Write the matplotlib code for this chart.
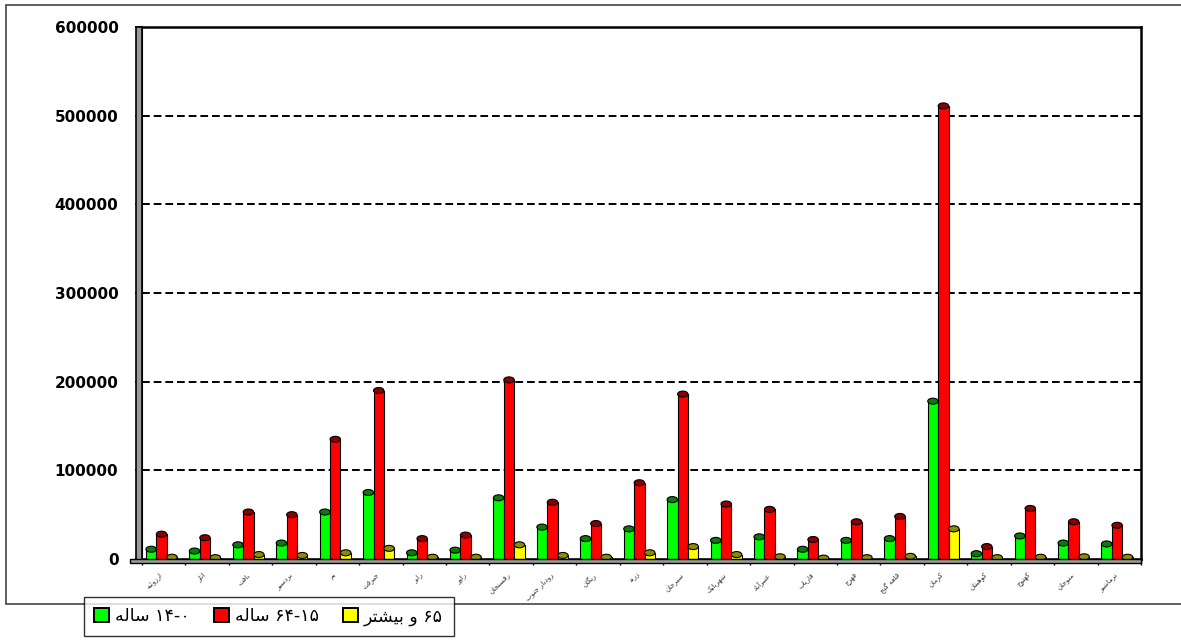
import re
import matplotlib
matplotlib.use('Agg')
import matplotlib.pyplot as plt
from matplotlib.patches import Ellipse, Rectangle, Patch
from matplotlib.ticker import FixedLocator

# county names (Kerman province), left to right
counties = ['ارزوئیه', 'انار', 'بافت', 'بردسیر', 'بم', 'جیرفت', 'رابر', 'راور',
            'رفسنجان', 'رودبار جنوب', 'ریگان', 'زرند', 'سیرجان', 'شهربابک',
            'عنبرآباد', 'فاریاب', 'فهرج', 'قلعه گنج', 'کرمان', 'کوهبنان',
            'کهنوج', 'منوجان', 'نرماشیر']
age_0_14 = [11000, 9000, 16000, 18000, 53000, 75000, 7000, 10000, 69000, 36000,
            23000, 34000, 67000, 21000, 25000, 11000, 21000, 23000, 178000, 6000,
            26000, 18000, 17000]
age_15_64 = [28000, 24000, 53000, 50000, 135000, 190000, 23000, 27000, 202000, 64000,
             40000, 86000, 186000, 62000, 56000, 22000, 42000, 48000, 511000, 14000,
             57000, 42000, 38000]
age_65 = [2000, 1500, 5000, 4000, 7000, 12000, 2000, 2000, 16000, 4000,
          2000, 7000, 14000, 5000, 2500, 1000, 1500, 3000, 34000, 1500,
          2000, 2500, 2000]
series_names = ['۰-۱۴ ساله', '۱۵-۶۴ ساله', '۶۵ و بیشتر']
yticks = [0, 100000, 200000, 300000, 400000, 500000, 600000]

# matplotlib has no arabic shaping, so pick presentation forms by hand
FORMS = {
    'ا': (0xFE8D, 0xFE8E), 'آ': (0xFE81, 0xFE82), 'د': (0xFEA9, 0xFEAA),
    'ر': (0xFEAD, 0xFEAE), 'ز': (0xFEAF, 0xFEB0), 'و': (0xFEED, 0xFEEE),
    'ب': (0xFE8F, 0xFE90, 0xFE91, 0xFE92), 'ت': (0xFE95, 0xFE96, 0xFE97, 0xFE98),
    'ج': (0xFE9D, 0xFE9E, 0xFE9F, 0xFEA0), 'س': (0xFEB1, 0xFEB2, 0xFEB3, 0xFEB4),
    'ش': (0xFEB5, 0xFEB6, 0xFEB7, 0xFEB8), 'ع': (0xFEC9, 0xFECA, 0xFECB, 0xFECC),
    'ف': (0xFED1, 0xFED2, 0xFED3, 0xFED4), 'ق': (0xFED5, 0xFED6, 0xFED7, 0xFED8),
    'ل': (0xFEDD, 0xFEDE, 0xFEDF, 0xFEE0), 'م': (0xFEE1, 0xFEE2, 0xFEE3, 0xFEE4),
    'ن': (0xFEE5, 0xFEE6, 0xFEE7, 0xFEE8), 'ه': (0xFEE9, 0xFEEA, 0xFEEB, 0xFEEC),
    'ئ': (0xFE89, 0xFE8A, 0xFE8B, 0xFE8C), 'ی': (0xFBFC, 0xFBFD, 0xFBFE, 0xFBFF),
    'ک': (0xFB8E, 0xFB8F, 0xFB90, 0xFB91), 'گ': (0xFB92, 0xFB93, 0xFB94, 0xFB95),
}
DIGITS = '0123456789۰۱۲۳۴۵۶۷۸۹'


def rtl(text):
    out = []
    for i, c in enumerate(text):
        if c not in FORMS:
            out.append(c)
            continue
        f = FORMS[c]
        prev = text[i - 1] if i > 0 else ''
        nxt = text[i + 1] if i < len(text) - 1 else ''
        jp = prev in FORMS and len(FORMS[prev]) == 4
        jn = len(f) == 4 and nxt in FORMS
        idx = 3 if (jp and jn) else 1 if jp else 2 if jn else 0
        out.append(chr(f[idx]))
    tokens = re.findall('[%s]+|[^%s]' % (DIGITS, DIGITS), ''.join(out))
    return ''.join(reversed(tokens))


plt.rcParams['font.family'] = ['DejaVu Sans']

fig = plt.figure(figsize=(11.81, 6.42), dpi=100)
W, H = 1181, 642
ax = fig.add_axes([142 / W, 1 - 559 / H, (1141 - 142) / W, (559 - 27) / H])

colors = ['#00ff00', '#ff0000', '#ffff00']
caps = ['#0b7a0b', '#8c0000', '#8c8c00']
data = [age_0_14, age_15_64, age_65]
bw = 0.24
cap_h = 6 * 600000 / 532
x = list(range(len(counties)))
for k, vals in enumerate(data):
    xs = [i + (k - 1) * bw - 0.05 for i in x]
    ax.bar(xs, vals, width=bw, color=colors[k], edgecolor='black', linewidth=0.8, zorder=3)
    for xi, v in zip(xs, vals):
        ax.add_patch(Ellipse((xi, v), bw, cap_h, facecolor=caps[k], edgecolor='black',
                             linewidth=0.8, zorder=4))

ax.set_xlim(-0.5, len(counties) - 0.5)
ax.set_ylim(0, 600000)
ax.set_yticks(yticks)
ax.set_yticklabels([str(v) for v in yticks], fontweight='bold', fontsize=11)
ax.tick_params(axis='y', length=5, width=1.2, pad=12)
for v in yticks[1:-1]:
    ax.axhline(v, color='black', linestyle=(0, (4, 2)), linewidth=1.4, zorder=1)

ax.set_xticks(x)
ax.set_xticklabels([rtl(c) for c in counties], rotation=45, ha='right', va='top',
                   fontsize=5, color='#333333')
ax.tick_params(axis='x', length=0, pad=9)
ax.xaxis.set_minor_locator(FixedLocator([i + 0.5 for i in range(-1, len(counties))]))
ax.tick_params(axis='x', which='minor', length=4, width=1)

for side in ['top', 'right', 'bottom']:
    ax.spines[side].set_linewidth(1.8)
ax.spines['left'].set_linewidth(1.5)

# grey side wall left of the plot
fig.patches.append(Rectangle((136 / W, 1 - 562 / H), 6 / W, (562 - 27) / H,
                             transform=fig.transFigure, facecolor='#9a9a9a',
                             edgecolor='black', linewidth=1.2))
# grey floor
fig.patches.append(Rectangle((130 / W, 1 - 563 / H), (1141 - 130) / W, 4 / H,
                             transform=fig.transFigure, facecolor='#9a9a9a',
                             edgecolor='black', linewidth=1.0))
# outer chart frame
fig.patches.append(Rectangle((6 / W, 1 - 604 / H), (W - 5) / W, (604 - 5) / H,
                             transform=fig.transFigure, facecolor='none',
                             edgecolor='#444444', linewidth=1.2))

handles = [Patch(facecolor=c, edgecolor='black', linewidth=1.4) for c in colors]
leg = fig.legend(handles, [rtl(s) for s in series_names], ncol=3,
                 loc='upper left', bbox_to_anchor=(84 / W, 1 - 597 / H),
                 borderaxespad=0, fontsize=12.5, frameon=True, fancybox=False,
                 borderpad=0.6, handlelength=0.85, handleheight=0.85,
                 handletextpad=0.35, columnspacing=1.4)
leg.get_frame().set_edgecolor('black')
leg.get_frame().set_linewidth(1.0)

plt.savefig('out.png', dpi=100)
